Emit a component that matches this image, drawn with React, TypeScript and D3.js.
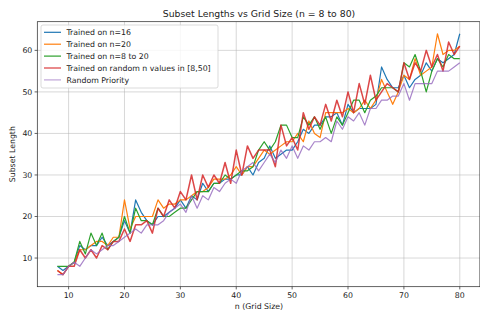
import React from "react";
import * as d3 from "d3";

const nValues: number[] = d3.range(8, 81);

const blueVals = [8,7,8,9,13,12,13,13,15,13,14,15,19,16,24,21,19,18,20,20,21,22,24,22,25,24,28,26,28,28,29,29,30,30,32,30,33,34,37,34,35,36,36,38,41,40,42,42,44,44,45,42,47,45,46,46,46,47,56,53,51,51,54,51,53,54,57,55,58,57,58,59,64];
const orangeVals = [7,6,8,9,12,12,13,14,14,13,15,15,24,17,20,20,20,20,24,22,23,23,24,24,25,26,26,27,29,29,29,30,32,30,32,32,34,36,35,36,37,38,38,40,38,43,40,39,45,45,45,45,46,45,46,48,46,48,53,50,47,50,54,53,58,54,55,56,64,59,60,60,61];
const greenVals = [8,8,8,9,14,11,16,13,16,12,14,15,20,16,22,19,19,18,22,20,20,21,22,22,24,26,26,26,28,28,30,29,30,31,31,32,36,38,36,38,42,42,39,39,44,42,44,41,44,40,44,42,45,48,48,45,48,49,51,51,51,50,57,56,59,55,50,55,58,56,59,58,58];
const redVals = [7,6,8,8,12,10,12,10,13,12,14,14,17,14,18,18,19,16,22,20,24,22,26,24,30,24,30,27,30,28,33,28,36,30,37,34,36,36,36,32,42,37,39,36,45,41,44,42,47,43,48,44,50,45,52,47,54,48,50,52,51,50,57,53,57,55,60,56,59,55,62,59,61];
const purpleVals = [6,6,8,9,8,10,12,11,12,13,13,14,15,16,17,16,18,18,18,19,21,22,23,21,25,22,25,24,27,26,28,29,28,31,32,33,31,33,35,33,36,34,37,34,37,36,38,38,39,38,43,41,44,43,45,42,46,46,48,48,49,49,52,48,52,52,52,52,55,55,55,56,57];

const seriesNames = [
  "Trained on n=16",
  "Trained on n=20",
  "Trained on n=8 to 20",
  "Trained on random n values in [8,50]",
  "Random Priority",
];
const seriesValues = [blueVals, orangeVals, greenVals, redVals, purpleVals];
const seriesColors = ["#1f77b4", "#ff7f0e", "#2ca02c", "#d62728", "#9467bd"];
const seriesAlpha = [1, 1, 1, 0.85, 0.8];
const seriesWidth = [1.2, 1.2, 1.2, 1.5, 1.2];

const xTicks = [10, 20, 30, 40, 50, 60, 70, 80];
const yTicks = [10, 20, 30, 40, 50, 60];

const W = 480;
const H = 310;
const FONT = "DejaVu Sans, sans-serif";

export default function App() {
  const left = 37.3, right = 479.9, top = 21.7, bottom = 286.7;
  const x = d3.scaleLinear().domain([4.4, 83.6]).range([left, right]);
  const allVals = seriesValues.flat();
  const yMin = d3.min(allVals) as number;
  const yMax = d3.max(allVals) as number;
  const pad = (yMax - yMin) * 0.05;
  const y = d3.scaleLinear().domain([yMin - pad, yMax + pad]).range([bottom, top]);

  const line = d3
    .line<[number, number]>()
    .x((d) => x(d[0]))
    .y((d) => y(d[1]));

  const legendX = 41, legendY = 25, legendW = 177, legendH = 63;
  const rowH = 11.9;

  return (
    <svg
      width={W}
      height={H}
      style={{ position: "absolute", left: 0, top: 0, background: "#fff" }}
      fontFamily={FONT}
    >
      <rect x={0} y={0} width={W} height={H} fill="#fff" />
      <text x={259} y={17} textAnchor="middle" fontSize={9.3} fill="#222">
        Subset Lengths vs Grid Size (n = 8 to 80)
      </text>
      {/* grid */}
      {xTicks.map((t) => (
        <line key={"gx" + t} x1={x(t)} x2={x(t)} y1={top} y2={bottom} stroke="#b0b0b0" strokeOpacity={0.7} strokeWidth={0.7} />
      ))}
      {yTicks.map((t) => (
        <line key={"gy" + t} x1={left} x2={right} y1={y(t)} y2={y(t)} stroke="#b0b0b0" strokeOpacity={0.7} strokeWidth={0.7} />
      ))}
      {/* series */}
      {seriesValues.map((vals, i) => (
        <path
          key={"s" + i}
          d={line(vals.map((v, j) => [nValues[j], v]) as [number, number][]) || ""}
          fill="none"
          stroke={seriesColors[i]}
          strokeOpacity={seriesAlpha[i]}
          strokeWidth={seriesWidth[i]}
          strokeLinejoin="round"
        />
      ))}
      {/* spines */}
      <rect x={left} y={top} width={right - left} height={bottom - top} fill="none" stroke="#222" strokeWidth={0.7} />
      {/* x ticks */}
      {xTicks.map((t) => (
        <g key={"xt" + t}>
          <line x1={x(t)} x2={x(t)} y1={bottom} y2={bottom + 2.7} stroke="#222" strokeWidth={0.7} />
          <text x={x(t)} y={bottom + 11.5} textAnchor="middle" fontSize={7.8} fill="#222">
            {t}
          </text>
        </g>
      ))}
      {yTicks.map((t) => (
        <g key={"yt" + t}>
          <line x1={left - 2.7} x2={left} y1={y(t)} y2={y(t)} stroke="#222" strokeWidth={0.7} />
          <text x={left - 5} y={y(t) + 2.8} textAnchor="end" fontSize={7.8} fill="#222">
            {t}
          </text>
        </g>
      ))}
      <text x={259} y={309} textAnchor="middle" fontSize={7.8} fill="#222">
        n (Grid Size)
      </text>
      <text
        transform={`translate(15, ${(top + bottom) / 2}) rotate(-90)`}
        textAnchor="middle"
        fontSize={7.8}
        fill="#222"
      >
        Subset Length
      </text>
      {/* legend */}
      <rect x={legendX} y={legendY} width={legendW} height={legendH} rx={2} fill="#fff" fillOpacity={0.8} stroke="#cccccc" strokeWidth={0.7} />
      {seriesNames.map((name, i) => {
        const cy = legendY + 7.3 + i * rowH;
        return (
          <g key={"lg" + i}>
            <line x1={44} x2={61} y1={cy} y2={cy} stroke={seriesColors[i]} strokeOpacity={seriesAlpha[i] < 1 ? 0.6 : 1} strokeWidth={seriesWidth[i] < 1.4 ? 1.2 : 1.8} />
            <text x={66.5} y={cy + 2.8} fontSize={7.8} fill="#222">
              {name}
            </text>
          </g>
        );
      })}
    </svg>
  );
}
